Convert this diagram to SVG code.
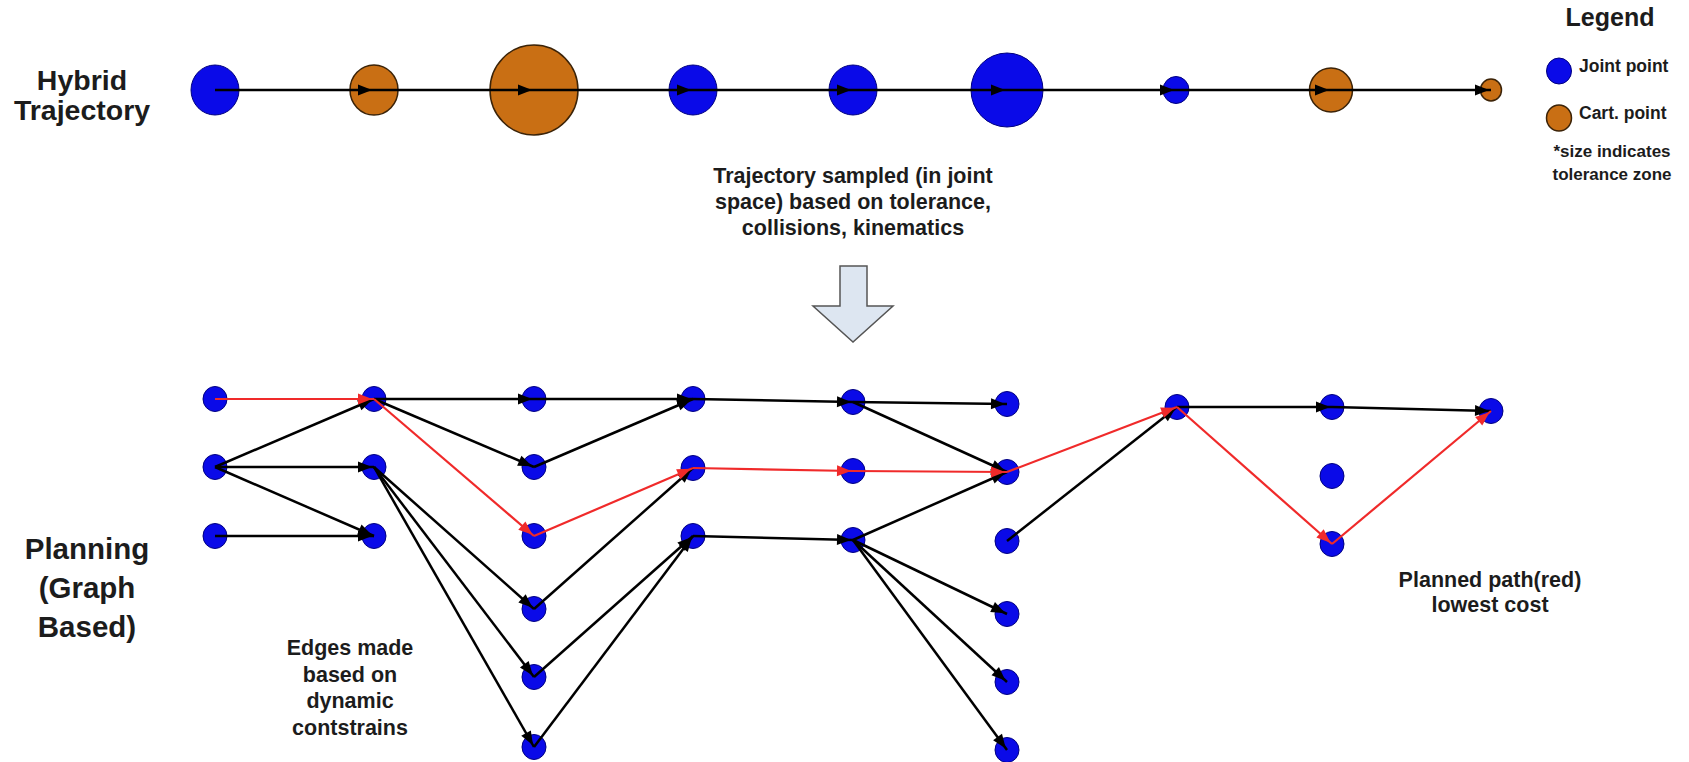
<svg xmlns="http://www.w3.org/2000/svg" width="1689" height="762" viewBox="0 0 1689 762">
<style>
.t{font-family:"Liberation Sans",Arial,sans-serif;font-weight:bold;fill:#1c1c1c}
.j{fill:#0a0ae8;stroke:#000080;stroke-width:1}
.c{fill:#c96f14;stroke:#3b2308;stroke-width:1.5}
.e{stroke:#000;stroke-width:2.5;fill:none;marker-end:url(#ab)}
.r{stroke:#f02a2a;stroke-width:2.2;fill:none;marker-end:url(#ar)}
</style>
<defs>
<marker id="ab" markerUnits="userSpaceOnUse" markerWidth="15" markerHeight="12" refX="16" refY="5.5" orient="auto" overflow="visible"><path d="M0,0 L14,5.5 L0,11 z" fill="#000"/></marker>
<marker id="ar" markerUnits="userSpaceOnUse" markerWidth="15" markerHeight="12" refX="16" refY="5.5" orient="auto" overflow="visible"><path d="M0,0 L14,5.5 L0,11 z" fill="#f02a2a"/></marker>
</defs>
<rect width="1689" height="762" fill="#fff"/>

<g id="label-hybrid"><text class="t" x="82" y="90" font-size="28.5" text-anchor="middle">Hybrid</text><text class="t" x="82" y="120" font-size="28.5" text-anchor="middle">Trajectory</text></g>
<g id="label-planning"><text class="t" x="87" y="559" font-size="29.5" text-anchor="middle">Planning</text><text class="t" x="87" y="598" font-size="29.5" text-anchor="middle">(Graph</text><text class="t" x="87" y="637" font-size="29.5" text-anchor="middle">Based)</text></g>

<g id="legend">
<text class="t" x="1610" y="26" font-size="25" text-anchor="middle">Legend</text>
<ellipse class="j" cx="1559" cy="71" rx="12.5" ry="13"/>
<text class="t" x="1579" y="72" font-size="17.5">Joint point</text>
<ellipse class="c" cx="1559" cy="118" rx="12.5" ry="13"/>
<text class="t" x="1579" y="119" font-size="17.5">Cart. point</text>
<text class="t" x="1612" y="157" font-size="17" text-anchor="middle">*size indicates</text>
<text class="t" x="1612" y="180" font-size="17" text-anchor="middle">tolerance zone</text>
</g>

<g id="sampling-note">
<text class="t" x="853" y="183" font-size="21.5" text-anchor="middle">Trajectory sampled (in joint</text>
<text class="t" x="853" y="209" font-size="21.5" text-anchor="middle">space) based on tolerance,</text>
<text class="t" x="853" y="235" font-size="21.5" text-anchor="middle">collisions, kinematics</text>
<polygon points="840,266 867,266 867,306 893,306 853,342 813,306 840,306" fill="#dde6f1" stroke="#555" stroke-width="1.5"/>
</g>

<g id="edges-note"><text class="t" x="350" y="655" font-size="21.5" text-anchor="middle">Edges made</text><text class="t" x="350" y="682" font-size="21.5" text-anchor="middle">based on</text><text class="t" x="350" y="708" font-size="21.5" text-anchor="middle">dynamic</text><text class="t" x="350" y="735" font-size="21.5" text-anchor="middle">contstrains</text></g>
<g id="path-note"><text class="t" x="1490" y="587" font-size="21.5" text-anchor="middle">Planned path(red)</text><text class="t" x="1490" y="612" font-size="21.5" text-anchor="middle">lowest cost</text></g>

<g id="traj-nodes">
<g id="t1"><ellipse class="j" cx="215" cy="90" rx="24" ry="25"/></g>
<g id="t2"><ellipse class="c" cx="374" cy="90" rx="24" ry="25"/></g>
<g id="t3"><ellipse class="c" cx="534" cy="90" rx="44" ry="45"/></g>
<g id="t4"><ellipse class="j" cx="693" cy="90" rx="24" ry="25"/></g>
<g id="t5"><ellipse class="j" cx="853" cy="90" rx="24" ry="25"/></g>
<g id="t6"><ellipse class="j" cx="1007" cy="90" rx="36" ry="37"/></g>
<g id="t7"><ellipse class="j" cx="1176" cy="90" rx="13" ry="13.5"/></g>
<g id="t8"><ellipse class="c" cx="1331" cy="90" rx="21.5" ry="22"/></g>
<g id="t9"><ellipse class="c" cx="1491" cy="90" rx="10.5" ry="11"/></g>
</g>

<g id="graph-nodes">
<g id="A1"><ellipse class="j" cx="215" cy="399" rx="12" ry="12.5"/></g>
<g id="A2"><ellipse class="j" cx="215" cy="467" rx="12" ry="12.5"/></g>
<g id="A3"><ellipse class="j" cx="215" cy="536" rx="12" ry="12.5"/></g>
<g id="B1"><ellipse class="j" cx="374" cy="399" rx="12" ry="12.5"/></g>
<g id="B2"><ellipse class="j" cx="374" cy="467" rx="12" ry="12.5"/></g>
<g id="B3"><ellipse class="j" cx="374" cy="536" rx="12" ry="12.5"/></g>
<g id="C1"><ellipse class="j" cx="534" cy="399" rx="12" ry="12.5"/></g>
<g id="C2"><ellipse class="j" cx="534" cy="467" rx="12" ry="12.5"/></g>
<g id="C3"><ellipse class="j" cx="534" cy="536" rx="12" ry="12.5"/></g>
<g id="C4"><ellipse class="j" cx="534" cy="609" rx="12" ry="12.5"/></g>
<g id="C5"><ellipse class="j" cx="534" cy="677" rx="12" ry="12.5"/></g>
<g id="C6"><ellipse class="j" cx="534" cy="747" rx="12" ry="12.5"/></g>
<g id="D1"><ellipse class="j" cx="693" cy="399" rx="12" ry="12.5"/></g>
<g id="D2"><ellipse class="j" cx="693" cy="468" rx="12" ry="12.5"/></g>
<g id="D3"><ellipse class="j" cx="693" cy="536" rx="12" ry="12.5"/></g>
<g id="E1"><ellipse class="j" cx="853" cy="402" rx="12" ry="12.5"/></g>
<g id="E2"><ellipse class="j" cx="853" cy="471" rx="12" ry="12.5"/></g>
<g id="E3"><ellipse class="j" cx="853" cy="540" rx="12" ry="12.5"/></g>
<g id="F1"><ellipse class="j" cx="1007" cy="404" rx="12" ry="12.5"/></g>
<g id="F2"><ellipse class="j" cx="1007" cy="472" rx="12" ry="12.5"/></g>
<g id="F3"><ellipse class="j" cx="1007" cy="541" rx="12" ry="12.5"/></g>
<g id="F4"><ellipse class="j" cx="1007" cy="614" rx="12" ry="12.5"/></g>
<g id="F5"><ellipse class="j" cx="1007" cy="682" rx="12" ry="12.5"/></g>
<g id="F6"><ellipse class="j" cx="1007" cy="750" rx="12" ry="12.5"/></g>
<g id="G1"><ellipse class="j" cx="1177" cy="407" rx="12" ry="12.5"/></g>
<g id="H1"><ellipse class="j" cx="1332" cy="407" rx="12" ry="12.5"/></g>
<g id="H2"><ellipse class="j" cx="1332" cy="476" rx="12" ry="12.5"/></g>
<g id="H3"><ellipse class="j" cx="1332" cy="544" rx="12" ry="12.5"/></g>
<g id="I1"><ellipse class="j" cx="1491" cy="411" rx="12" ry="12.5"/></g>
</g>

<g id="connectors">
<path class="e" d="M215,90 L374,90"/>
<path class="e" d="M374,90 L534,90"/>
<path class="e" d="M534,90 L693,90"/>
<path class="e" d="M693,90 L853,90"/>
<path class="e" d="M853,90 L1007,90"/>
<path class="e" d="M1007,90 L1176,90"/>
<path class="e" d="M1176,90 L1331,90"/>
<path class="e" d="M1331,90 L1491,90"/>

<path class="e" d="M215,467 L374,399"/>
<path class="e" d="M215,467 L374,467"/>
<path class="e" d="M215,467 L374,536"/>
<path class="e" d="M215,536 L374,536"/>
<path class="e" d="M374,399 L534,399"/>
<path class="e" d="M374,399 L534,467"/>
<path class="e" d="M374,467 L534,609"/>
<path class="e" d="M374,467 L534,677"/>
<path class="e" d="M374,467 L534,747"/>
<path class="e" d="M534,399 L693,399"/>
<path class="e" d="M534,467 L693,399"/>
<path class="e" d="M534,609 L693,468"/>
<path class="e" d="M534,677 L693,536"/>
<path class="e" d="M534,747 L693,536"/>
<path class="e" d="M693,399 L853,402"/>
<path class="e" d="M693,536 L853,540"/>
<path class="e" d="M853,402 L1007,404"/>
<path class="e" d="M853,402 L1007,472"/>
<path class="e" d="M853,540 L1007,472"/>
<path class="e" d="M853,540 L1007,614"/>
<path class="e" d="M853,540 L1007,682"/>
<path class="e" d="M853,540 L1007,750"/>
<path class="e" d="M1007,541 L1177,407"/>
<path class="e" d="M1177,407 L1332,407"/>
<path class="e" d="M1332,407 L1491,411"/>

<path class="r" d="M215,399 L374,399"/>
<path class="r" d="M374,399 L534,536"/>
<path class="r" d="M534,536 L693,468"/>
<path class="r" d="M693,468 L853,471"/>
<path class="r" d="M853,471 L1007,472"/>
<path class="r" d="M1007,472 L1177,407"/>
<path class="r" d="M1177,407 L1332,544"/>
<path class="r" d="M1332,544 L1491,411"/>
</g>
</svg>
